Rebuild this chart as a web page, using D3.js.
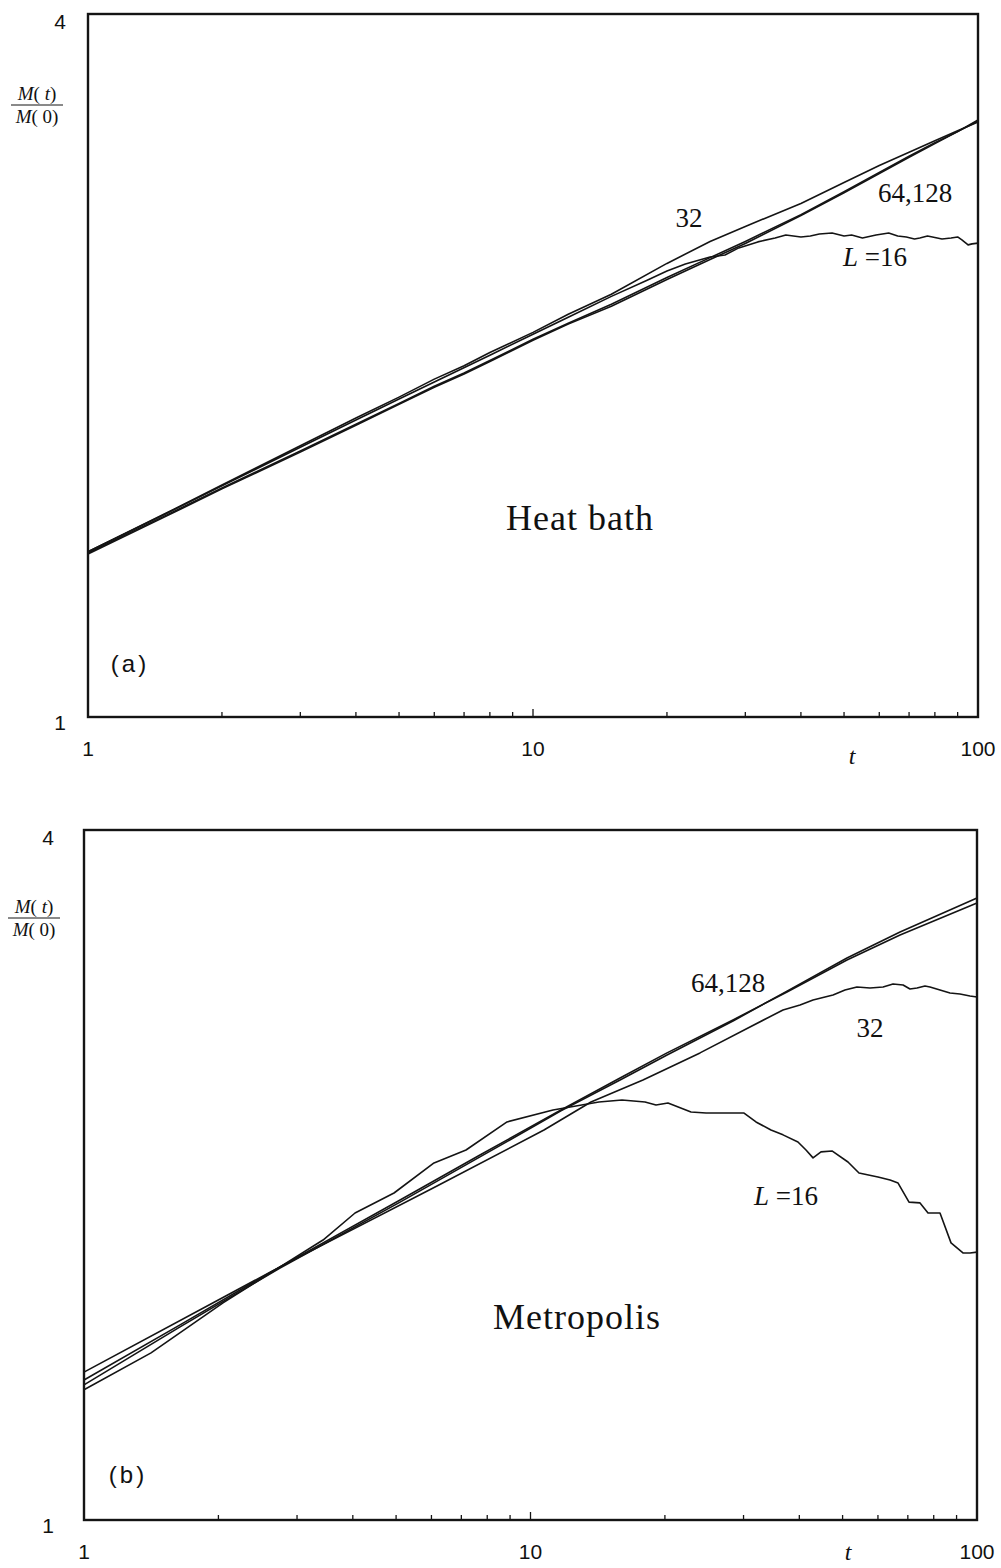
<!DOCTYPE html>
<html>
<head>
<meta charset="utf-8">
<script src="https://cdn.jsdelivr.net/npm/d3@7"></script>
<style>
  body { margin: 0; background: #fff; }
  svg { display: block; }
  .num { font-family: "Liberation Sans", Arial, sans-serif; font-size: 21px; fill: #111; }
  .serif { font-family: "Liberation Serif", "Times New Roman", serif; fill: #111; }
</style>
</head>
<body>
<div id="chart"></div>
<script>
// ---- axis ticks ----
const xTickLabels = [1, 10, 100];
const yTickLabels = [1, 4];
const xMinorTicks = [2, 3, 4, 5, 6, 7, 8, 9, 10, 20, 30, 40, 50, 60, 70, 80, 90];

// ---- (a) heat bath ----
const heatT = [1, 1.5, 2, 3, 4, 5, 6, 7, 8, 10, 12, 15, 20, 25, 30, 40, 50, 60, 70, 80, 90, 100];
const heat32 = [1.385, 1.495, 1.580, 1.707, 1.803, 1.879, 1.947, 1.999, 2.052, 2.135, 2.213, 2.302, 2.446, 2.554, 2.631, 2.753, 2.869, 2.967, 3.046, 3.116, 3.178, 3.233];
const heat64 = [1.382, 1.489, 1.571, 1.690, 1.781, 1.856, 1.920, 1.971, 2.020, 2.106, 2.174, 2.257, 2.379, 2.474, 2.554, 2.693, 2.818, 2.926, 3.022, 3.104, 3.172, 3.239];
const heat128 = [1.379, 1.486, 1.568, 1.686, 1.778, 1.853, 1.916, 1.967, 2.016, 2.102, 2.170, 2.248, 2.370, 2.465, 2.544, 2.688, 2.812, 2.920, 3.016, 3.098, 3.172, 3.246];
const heat16T = [1, 1.5, 2, 3, 4, 5, 6, 8, 10, 12, 15, 18, 20, 22, 25, 27, 29, 32, 35, 37,
  40, 42, 44, 47, 50, 52, 55, 59, 63, 66, 69, 72, 74, 77, 79, 83, 87, 90, 92, 95, 97, 100];
const heat16 = [1.385, 1.494, 1.578, 1.702, 1.796, 1.872, 1.936, 2.041, 2.127, 2.200, 2.292, 2.365, 2.41, 2.443, 2.477, 2.487, 2.522, 2.552, 2.572, 2.587,
  2.577, 2.582, 2.592, 2.597, 2.582, 2.587, 2.572, 2.587, 2.597, 2.582, 2.577, 2.567, 2.572, 2.582, 2.577, 2.567, 2.572, 2.577, 2.562, 2.537, 2.542, 2.546];

// ---- (b) metropolis ----
const metroT = [1, 1.641, 2.748, 5.104, 7.706, 11.70, 15.87, 20.22, 28.41, 37.54, 51.14, 67.24, 100];
const metro64 = [1.325, 1.480, 1.663, 1.902, 2.082, 2.279, 2.430, 2.556, 2.731, 2.889, 3.081, 3.239, 3.454];
const metro128 = [1.312, 1.474, 1.659, 1.894, 2.074, 2.275, 2.421, 2.545, 2.725, 2.894, 3.093, 3.259, 3.489];
const metro32T = [1, 2.748, 6.174, 10.72, 13.66, 17.86, 23.97, 31.01, 36.77, 40.15, 42.93, 47.59, 50.62, 53.85,
  57.59, 61.60, 64.86, 68.30, 70.79, 73.39, 76.47, 78.47, 82.63, 87.00, 91.60, 96.45, 100];
const metro32 = [1.346, 1.663, 1.956, 2.189, 2.316, 2.421, 2.556, 2.693, 2.786, 2.814, 2.843, 2.871, 2.900, 2.918,
  2.912, 2.918, 2.936, 2.930, 2.906, 2.912, 2.924, 2.918, 2.900, 2.883, 2.877, 2.866, 2.860];
const metro16T = [1, 1.413, 2.048, 2.748, 3.43, 4.046, 4.947, 6.08, 7.171, 8.86, 11.23, 14.23, 16.03, 18.05, 19.10, 20.32, 22.88, 24.73, 30.08, 31.99,
  34.56, 36.77, 39.72, 41.40, 42.93, 44.73, 47.34, 51.41, 54.41, 60.01, 63.87, 66.56, 70.43, 74.54, 77.68, 82.63, 87.46, 93.02, 96.45, 100];
const metro16 = [1.299, 1.399, 1.547, 1.663, 1.755, 1.853, 1.929, 2.049, 2.103, 2.225, 2.279, 2.316, 2.325, 2.316, 2.302, 2.311, 2.270, 2.265, 2.265, 2.225,
  2.189, 2.168, 2.137, 2.103, 2.070, 2.095, 2.099, 2.053, 2.008, 1.992, 1.980, 1.968, 1.894, 1.891, 1.853, 1.853, 1.745, 1.710, 1.710, 1.713];

const width = 1001, height = 1568;
const ink = "#141414";

const svg = d3.select("#chart").append("svg")
  .attr("width", width)
  .attr("height", height);

function drawPanel(p) {
  const x = d3.scaleLog().domain([1, 100]).range([p.x0, p.x1]);
  const y = d3.scaleLog().domain([1, 4]).range([p.y1, p.y0]);
  const g = svg.append("g");

  const line = d3.line().x(d => x(d[0])).y(d => y(d[1]));

  p.series.forEach(s => {
    g.append("path")
      .datum(d3.zip(s.t, s.m))
      .attr("d", line)
      .attr("fill", "none")
      .attr("stroke", ink)
      .attr("stroke-width", 1.6)
      .attr("stroke-linejoin", "round");
  });

  // frame
  g.append("rect")
    .attr("x", p.x0).attr("y", p.y0)
    .attr("width", p.x1 - p.x0).attr("height", p.y1 - p.y0)
    .attr("fill", "none")
    .attr("stroke", ink)
    .attr("stroke-width", 2.4);

  // small inward ticks on the t axis
  g.selectAll(".minor")
    .data(xMinorTicks)
    .join("line")
    .attr("x1", d => x(d)).attr("x2", d => x(d))
    .attr("y1", p.y1).attr("y2", d => p.y1 - (d === 10 ? 8 : 5))
    .attr("stroke", ink)
    .attr("stroke-width", 1.3);

  // tick labels
  g.selectAll(".xl")
    .data(xTickLabels)
    .join("text")
    .attr("class", "num")
    .attr("x", d => x(d))
    .attr("y", p.y1 + 39)
    .attr("text-anchor", "middle")
    .text(d => d);

  g.selectAll(".yl")
    .data(yTickLabels)
    .join("text")
    .attr("class", "num")
    .attr("x", p.x0 - p.yLabelGap)
    .attr("y", d => y(d) + (d === 4 ? 15 : 13))
    .attr("text-anchor", "middle")
    .text(d => d);

  // t axis title
  g.append("text")
    .attr("class", "serif")
    .attr("x", p.tx).attr("y", p.ty)
    .attr("text-anchor", "middle")
    .style("font-size", "24px")
    .style("font-style", "italic")
    .text("t");

  // M(t)/M(0) fraction
  const fr = g.append("g").attr("class", "serif").style("font-size", "19px");
  const num = fr.append("text").attr("x", p.fx).attr("y", p.fy).attr("text-anchor", "middle");
  num.append("tspan").style("font-style", "italic").text("M");
  num.append("tspan").text("( ");
  num.append("tspan").style("font-style", "italic").text("t");
  num.append("tspan").text(")");
  fr.append("line")
    .attr("x1", p.fx - 26).attr("x2", p.fx + 26)
    .attr("y1", p.fy + 5).attr("y2", p.fy + 5)
    .attr("stroke", ink).attr("stroke-width", 1);
  const den = fr.append("text").attr("x", p.fx).attr("y", p.fy + 23).attr("text-anchor", "middle");
  den.append("tspan").style("font-style", "italic").text("M");
  den.append("tspan").text("( 0)");

  // panel letter
  g.append("text")
    .attr("class", "num")
    .attr("x", p.letter[0]).attr("y", p.letter[1])
    .attr("text-anchor", "middle")
    .style("font-size", "24px")
    .style("letter-spacing", "3px")
    .text(p.letter[2]);

  // method name
  g.append("text")
    .attr("class", "serif")
    .attr("x", p.title[0]).attr("y", p.title[1])
    .attr("text-anchor", "middle")
    .style("font-size", "36px")
    .style("letter-spacing", "1px")
    .text(p.title[2]);

  // curve annotations
  p.notes.forEach(n => {
    const t = g.append("text")
      .attr("class", "serif")
      .attr("x", n[0]).attr("y", n[1])
      .attr("text-anchor", "middle")
      .style("font-size", "27px");
    if (n[2] === "L") {
      t.append("tspan").style("font-style", "italic").text("L");
      t.append("tspan").text(" =16");
    } else {
      t.text(n[2]);
    }
  });
}

drawPanel({
  x0: 88, x1: 978, y0: 14, y1: 717,
  yLabelGap: 28,
  tx: 852, ty: 764, fx: 37, fy: 100,
  letter: [130, 672, "(a)"],
  title: [580, 530, "Heat bath"],
  notes: [[689, 227, "32"], [915, 202, "64,128"], [875, 266, "L"]],
  series: [
    { t: heatT, m: heat128 },
    { t: heatT, m: heat64 },
    { t: heatT, m: heat32 },
    { t: heat16T, m: heat16 }
  ]
});

drawPanel({
  x0: 84, x1: 977, y0: 830, y1: 1520,
  yLabelGap: 36,
  tx: 848, ty: 1560, fx: 34, fy: 913,
  letter: [128, 1483, "(b)"],
  title: [577, 1329, "Metropolis"],
  notes: [[728, 992, "64,128"], [870, 1037, "32"], [786, 1205, "L"]],
  series: [
    { t: metroT, m: metro128 },
    { t: metroT, m: metro64 },
    { t: metro32T, m: metro32 },
    { t: metro16T, m: metro16 }
  ]
});
</script>
</body>
</html>
